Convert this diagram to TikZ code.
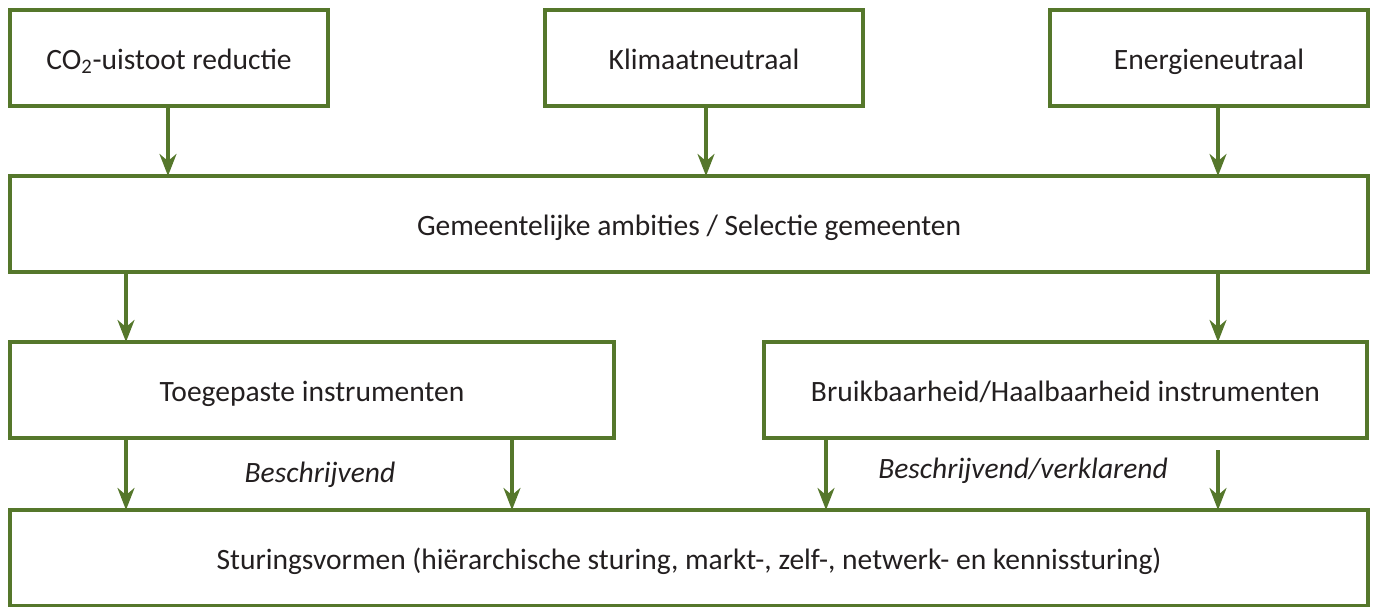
\documentclass[tikz,border=0pt]{standalone}
\usepackage{fontspec}
\setmainfont{Carlito}
\usepackage{xcolor}
\usetikzlibrary{arrows.meta}
\definecolor{groen}{HTML}{55772B}
\definecolor{tekst}{HTML}{231F20}

\begin{document}
\begin{tikzpicture}[
			     x=0.02cm, y=-0.02cm,
			     font=\fontsize{16.8}{20}\selectfont, text=tekst,
			     box/.style={draw=groen, line width=2.3pt, fill=white, inner sep=0pt, outer sep=0pt, minimum height=1.92cm, text height=13pt, text depth=0pt},
			     topbox/.style={box, minimum width=6.36cm},
			     widebox/.style={box, minimum width=27.16cm},
			     halfbox/.style={box, minimum width=12.08cm},
			     descr/.style={font=\fontsize{16.8}{20}\selectfont\itshape},
			     normal line/.style={draw=groen, line width=2.3pt, -{Stealth[length=12.5pt, width=9.6pt, inset=4pt]}}
			     ] 
\useasboundingbox (0,0) rectangle (1375,607);
\node[topbox] (co2) at (169,58) {CO\textsubscript{2}-uistoot reductie};
\node[topbox] (klimaat) at (704,58) {Klimaatneutraal};
\node[topbox] (energie) at (1209,58) {Energieneutraal};
\node[widebox] (ambities) at (689,224) {Gemeentelijke ambities / Selectie gemeenten};
\node[halfbox] (toegepast) at (312,390) {Toegepaste instrumenten};
\node[halfbox] (bruikbaar) at (1065.5,390) {Bruikbaarheid/Haalbaarheid instrumenten};
\node[widebox] (sturing) at (689,558) {Sturingsvormen (hiërarchische sturing, markt-, zelf-, netwerk- en kennissturing)};
%
\path (co2.south -| 168,0) edge[normal line] (ambities.north -| 168,0);
\path (klimaat.south -| 706,0) edge[normal line] (ambities.north -| 706,0);
\path (energie.south -| 1218,0) edge[normal line] (ambities.north -| 1218,0);
\path (ambities.south -| 126,0) edge[normal line] (toegepast.north -| 126,0);
\path (ambities.south -| 1218,0) edge[normal line] (bruikbaar.north -| 1218,0);
\path (toegepast.south -| 126,0) edge[normal line] (sturing.north -| 126,0);
\path (toegepast.south -| 512,0) edge[normal line] (sturing.north -| 512,0);
\path (bruikbaar.south -| 826,0) edge[normal line] (sturing.north -| 826,0);
\path (bruikbaar.south -| 1218,0) edge[normal line, shorten <=7pt] (sturing.north -| 1218,0);
%
\node[descr] (besch) at (320,475) {Beschrijvend};
\node[descr] (verkl) at (1023,471) {Beschrijvend/verklarend};
\end{tikzpicture}
\end{document}
